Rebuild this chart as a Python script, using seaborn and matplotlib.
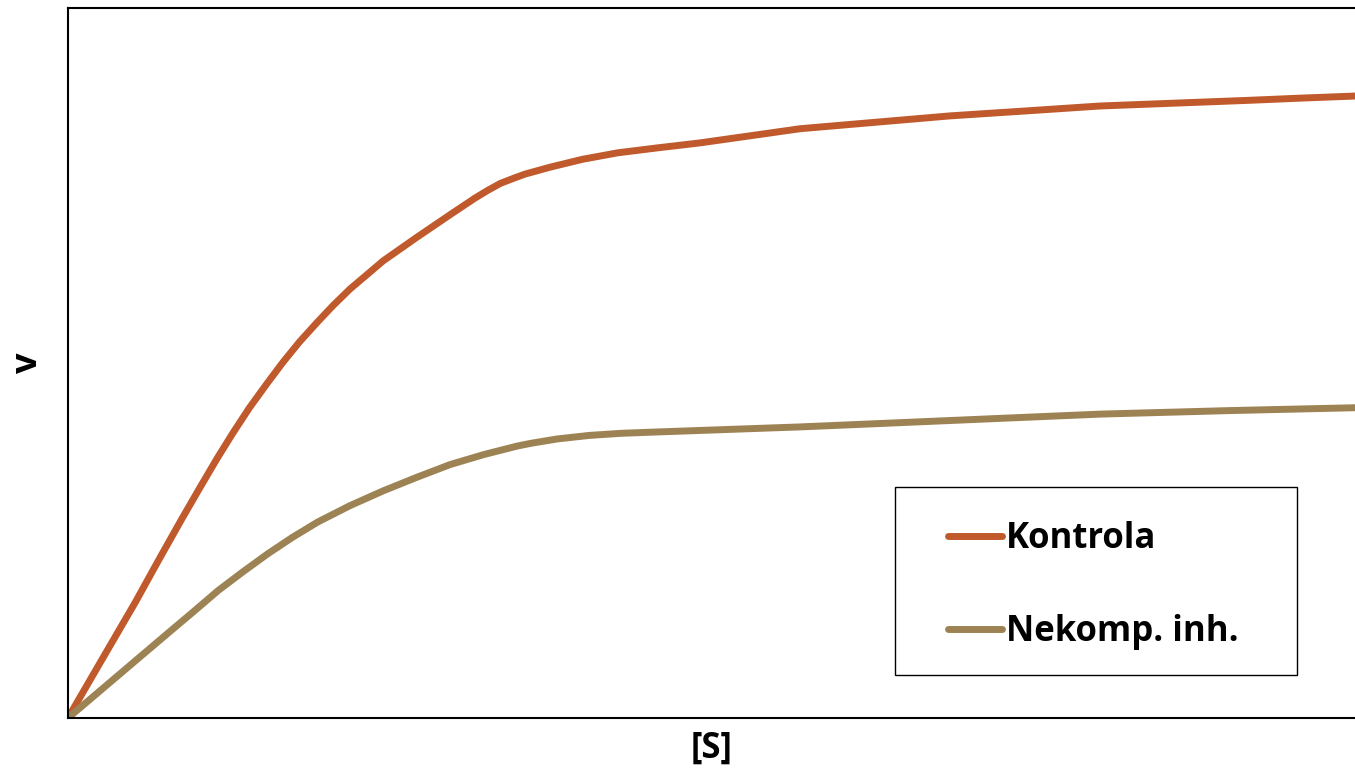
import pandas as pd
import numpy as np
import matplotlib
import matplotlib.pyplot as plt
import seaborn as sns
from matplotlib.patches import Rectangle
from matplotlib.lines import Line2D

# values ([S] and v in arbitrary units, 0..100)
s_kontrola = [0, 2.5, 5.2, 7.0, 8.8, 10.3, 11.6, 12.8, 14.1, 15.5, 16.7, 18.0,
              19.4, 20.6, 21.9, 24.5, 27.1, 29.7, 31.6, 32.6, 33.6, 34.6, 35.5,
              36.5, 37.5, 40.0, 42.7, 45.8, 49.1, 53.0, 56.9, 62.7, 68.5, 74.4,
              80.2, 86.0, 91.8, 95.7, 100]
v_kontrola = [0, 7.8, 16.2, 22.1, 27.9, 32.6, 36.6, 40.1, 43.7, 47.2, 50.1, 53.0,
              55.8, 58.1, 60.4, 64.4, 67.7, 70.9, 73.2, 74.3, 75.3, 76.0, 76.6,
              77.1, 77.6, 78.7, 79.6, 80.3, 81.0, 82.0, 83.0, 83.9, 84.8, 85.5,
              86.2, 86.6, 87.0, 87.3, 87.6]

s_nekomp = [0, 3.9, 7.8, 9.7, 11.7, 13.6, 15.5, 17.4, 19.4, 21.9, 24.5, 27.1,
            29.7, 32.3, 34.9, 36.0, 37.0, 38.0, 39.0, 40.5, 43.0, 46.0, 49.1,
            56.9, 64.7, 72.4, 80.2, 90.3, 100]
v_nekomp = [0, 6.0, 12.0, 14.9, 18.0, 20.6, 23.1, 25.4, 27.6, 29.9, 32.0, 33.9,
            35.7, 37.1, 38.3, 38.7, 39.0, 39.3, 39.5, 39.8, 40.1, 40.3, 40.5,
            41.0, 41.6, 42.2, 42.8, 43.3, 43.7]

series_names = ['Kontrola', 'Nekomp. inh.']
series_colors = ['#C05A2C', '#9D8354']

df = pd.concat([
    pd.DataFrame({'S': s_kontrola, 'v': v_kontrola, 'serie': series_names[0]}),
    pd.DataFrame({'S': s_nekomp, 'v': v_nekomp, 'serie': series_names[1]}),
], ignore_index=True)

sns.set_style("white")
plt.rcParams['font.family'] = ['Open Sans', 'DejaVu Sans']
plt.rcParams['text.color'] = 'black'
plt.rcParams['axes.labelcolor'] = 'black'

fig = plt.figure(figsize=(13.55, 7.71), dpi=100)
ax = fig.add_axes([68 / 1355, 1 - 718 / 771, 1 - 68 / 1355, (718 - 8) / 771])

sns.lineplot(data=df, x='S', y='v', hue='serie', palette=series_colors,
             linewidth=5, sort=False, ax=ax, legend=False)
for line in ax.lines:
    line.set_solid_joinstyle('round')

ax.set_xlim(0, 100)
ax.set_ylim(0, 100)
ax.set_xticks([])
ax.set_yticks([])
for side in ['left', 'bottom', 'top']:
    ax.spines[side].set_color('black')
    ax.spines[side].set_linewidth(1.5)
ax.spines['right'].set_visible(False)

ax.set_xlabel("[S]", fontsize=25, fontweight='bold', labelpad=9)
ax.set_ylabel("v", fontsize=26, fontweight='bold', labelpad=16)

# legend box
x0 = (895 - 68) / 1287
y0 = (718 - 675) / 710
ax.add_patch(Rectangle((x0, y0), (1297 - 895) / 1287, (675 - 487) / 710,
                       transform=ax.transAxes, fill=False, edgecolor='black',
                       linewidth=1.0, zorder=5))

handles = [Line2D([], [], color=c, linewidth=5, solid_capstyle='round')
           for c in series_colors]
ax.legend(handles, series_names, loc='center left',
          bbox_to_anchor=((948 - 68) / 1287, (718 - 585.5) / 710),
          frameon=False, borderpad=0, borderaxespad=0,
          handlelength=1.55, handletextpad=0.12, labelspacing=1.65,
          prop={'family': 'Open Sans', 'weight': 'bold', 'size': 25})

plt.savefig("out.png", dpi=100)
